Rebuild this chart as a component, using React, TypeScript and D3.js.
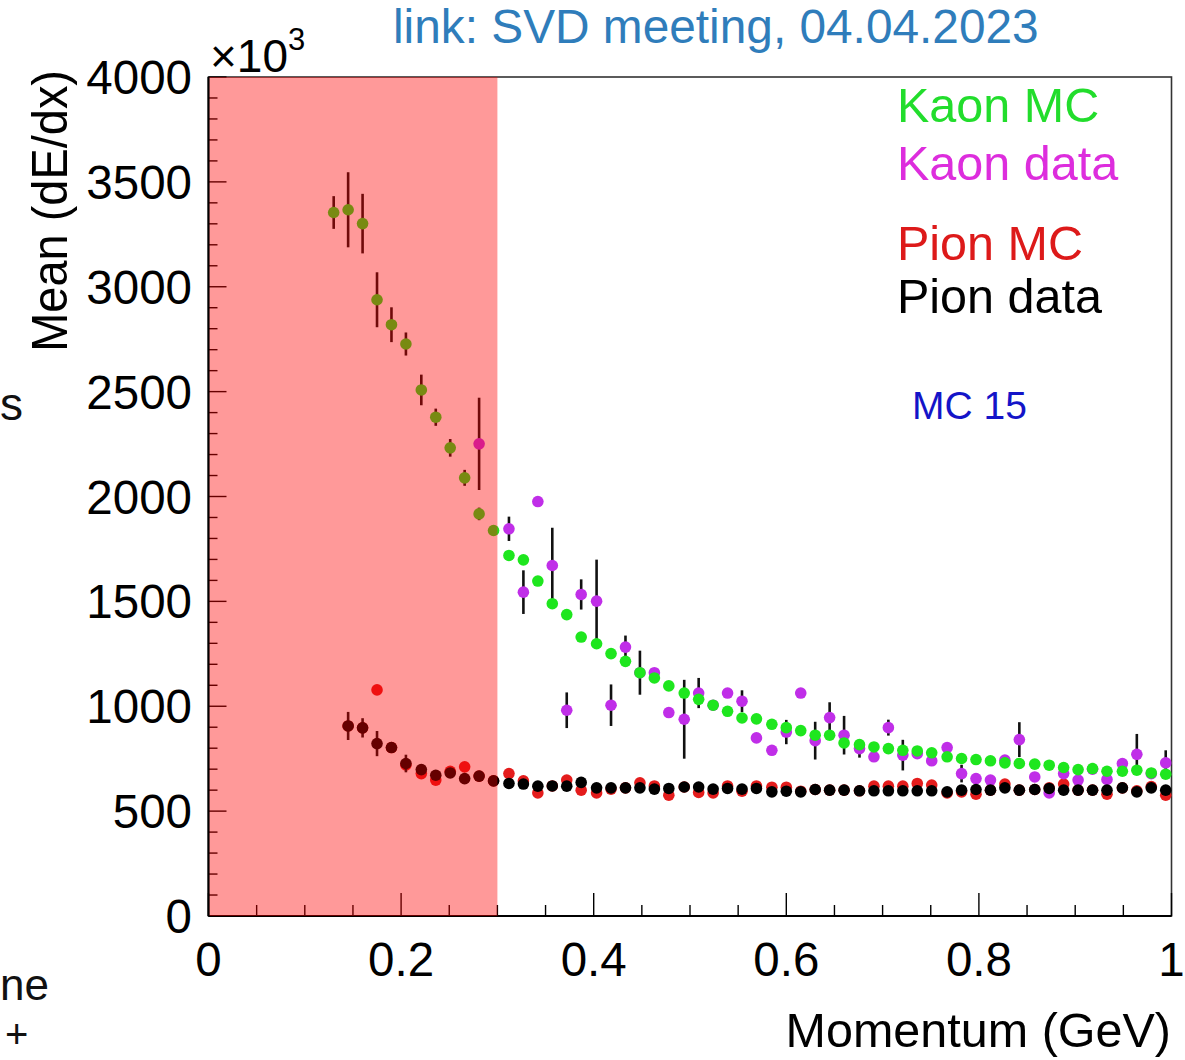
import React from 'react';
import * as d3 from 'd3';

const momentum = [0.130, 0.145, 0.160, 0.175, 0.190, 0.205, 0.221, 0.236, 0.251, 0.266, 0.281, 0.296, 0.312, 0.327, 0.342, 0.357, 0.372, 0.387, 0.403, 0.418, 0.433, 0.448, 0.463, 0.478, 0.494, 0.509, 0.524, 0.539, 0.554, 0.569, 0.585, 0.600, 0.615, 0.630, 0.645, 0.660, 0.676, 0.691, 0.706, 0.721, 0.736, 0.751, 0.767, 0.782, 0.797, 0.812, 0.827, 0.842, 0.858, 0.873, 0.888, 0.903, 0.918, 0.933, 0.949, 0.964, 0.979, 0.994];

const kaonMC = [3354, 3367, 3301, 2938, 2819, 2727, 2508, 2378, 2232, 2089, 1917, 1838, 1719, 1698, 1597, 1489, 1437, 1330, 1298, 1251, 1214, 1160, 1135, 1097, 1063, 1033, 1005, 976, 944, 940, 914, 898, 884, 862, 862, 825, 817, 806, 798, 790, 787, 778, 759, 751, 746, 740, 730, 727, 724, 719, 708, 698, 703, 690, 690, 695, 682, 676];
const kaonMCErr = [78, 179, 142, 131, 83, 55, 73, 41, 42, 38, 30, 15, 0, 0, 0, 0, 0, 0, 0, 0, 0, 0, 0, 0, 0, 0, 0, 0, 0, 0, 0, 0, 0, 0, 0, 0, 0, 0, 0, 0, 0, 0, 0, 0, 0, 0, 0, 0, 0, 0, 0, 0, 0, 0, 0, 0, 0, 0];

const kaonData = [null, null, null, null, null, null, null, null, null, null, 2251, null, 1846, 1544, 1976, 1671, 981, 1533, 1501, 1005, 1282, 1160, 1160, 970, 938, 1063, 1005, 1063, 1024, 849, 790, 877, 1063, 836, 946, 862, 798, 759, 898, 767, 774, 740, 803, 679, 655, 648, 743, 841, 663, 587, 679, 648, 700, 651, 727, 771, 679, 730];
const kaonDataErr = [0, 0, 0, 0, 0, 0, 0, 0, 0, 0, 220, 0, 58, 104, 0, 180, 85, 72, 198, 99, 55, 105, 15, 0, 188, 72, 0, 0, 52, 0, 0, 58, 0, 90, 73, 92, 43, 0, 38, 73, 20, 0, 20, 42, 25, 0, 20, 83, 0, 20, 0, 0, 0, 0, 0, 97, 20, 60];

const pionMC = [null, 906, 897, 1078, 803, 720, 679, 648, 690, 711, 667, 644, 679, 644, 587, 620, 648, 600, 587, 605, 611, 635, 620, 576, 615, 589, 587, 620, 595, 620, 614, 614, 595, 603, 600, 600, 597, 619, 619, 619, 632, 624, 587, 592, 581, 600, 629, 600, 603, 611, 629, 600, 600, 581, 611, 597, 617, 576];

const pionData = [null, 906, 897, 822, 803, 727, 698, 671, 682, 655, 667, 644, 632, 629, 619, 620, 619, 637, 611, 611, 611, 611, 605, 608, 615, 615, 605, 608, 605, 608, 592, 595, 592, 603, 600, 600, 597, 597, 597, 597, 597, 597, 592, 600, 603, 600, 611, 600, 603, 608, 600, 600, 600, 600, 611, 592, 611, 600];
const pionDataErr = [0, 67, 46, 60, 12, 42, 12, 10, 20, 0, 0, 0, 0, 0, 0, 0, 0, 0, 0, 0, 0, 0, 0, 0, 0, 0, 0, 0, 0, 0, 0, 0, 0, 0, 0, 0, 0, 0, 0, 0, 0, 0, 0, 0, 0, 0, 0, 0, 0, 0, 0, 0, 0, 0, 0, 0, 0, 0];

const yMajorTicks = [0, 500, 1000, 1500, 2000, 2500, 3000, 3500, 4000];
const xMajorTicks = [0, 0.2, 0.4, 0.6, 0.8, 1];
const xTickLabels = ['0', '0.2', '0.4', '0.6', '0.8', '1'];
const cutMomentum = 0.3;

const legendLabels = ['Kaon MC', 'Kaon data', 'Pion MC', 'Pion data'];
const legendColors = ['#22dd2c', '#dd2ddd', '#dd1a1a', '#000000'];

const FONT = '"Liberation Sans", Arial, Helvetica, sans-serif';

export default function App() {
  const x = d3.scaleLinear().domain([0, 1]).range([208.5, 1171.5]);
  const y = d3.scaleLinear().domain([0, 4000]).range([916, 77]);

  const yMinor = d3.range(0, 4001, 100);
  const xMinor = d3.range(0, 1.0001, 0.05);

  const pts = (vals: (number | null)[]) =>
    vals.map((v, i) => ({ p: momentum[i], v })).filter((d) => d.v !== null) as { p: number; v: number }[];

  const errBars = (vals: (number | null)[], errs: number[]) =>
    vals
      .map((v, i) => ({ p: momentum[i], v, e: errs[i] }))
      .filter((d) => d.v !== null && d.e > 0)
      .map((d, i) => (
        <line key={i} x1={x(d.p)} x2={x(d.p)} y1={y((d.v as number) - d.e)} y2={y((d.v as number) + d.e)} stroke="#111" strokeWidth={2.6} />
      ));

  const R = 5.8;

  return (
    <svg width={1185} height={1060} style={{ position: 'absolute', left: 0, top: 0, background: '#fff' }} fontFamily={FONT}>
      <rect x={0} y={0} width={1185} height={1060} fill="#fff" />
      {/* link text */}
      <text x={393} y={43} fontSize={47.8} fill="#2f7dbb">link: SVD meeting, 04.04.2023</text>

      {/* slide fragments on the left */}
      <text x={0} y={420} fontSize={46} fill="#111">s</text>
      <text x={0} y={1000} fontSize={44} fill="#111">ne</text>
      <text x={5} y={1048} fontSize={40} fill="#111">+</text>

      {/* frame */}
      <rect x={x(0)} y={y(4000)} width={x(1) - x(0)} height={y(0) - y(4000)} fill="none" stroke="#333" strokeWidth={1.6} />

      {/* data: pion MC */}
      <g>
        {pts(pionMC).map((d, i) => (
          <circle key={i} cx={x(d.p)} cy={y(d.v)} r={R} fill="#e41c1c" />
        ))}
      </g>
      {/* kaon data */}
      <g>
        {errBars(kaonData, kaonDataErr)}
        {pts(kaonData).map((d, i) => (
          <circle key={i} cx={x(d.p)} cy={y(d.v)} r={R} fill="#c02ee8" />
        ))}
      </g>
      {/* pion data */}
      <g>
        {errBars(pionData, pionDataErr)}
        {pts(pionData).map((d, i) => (
          <circle key={i} cx={x(d.p)} cy={y(d.v)} r={R} fill="#000" />
        ))}
      </g>
      {/* kaon MC */}
      <g>
        {errBars(kaonMC, kaonMCErr)}
        {pts(kaonMC).map((d, i) => (
          <circle key={i} cx={x(d.p)} cy={y(d.v)} r={R} fill="#1ee61e" />
        ))}
      </g>

      {/* axes */}
      <line x1={x(0)} x2={x(1)} y1={y(0)} y2={y(0)} stroke="#000" strokeWidth={2.2} />
      <line x1={x(0)} x2={x(0)} y1={y(0)} y2={y(4000)} stroke="#000" strokeWidth={2.2} />
      {yMinor.map((t) => (
        <line key={'ym' + t} x1={x(0)} x2={x(0) + (t % 500 === 0 ? 18 : 9)} y1={y(t)} y2={y(t)} stroke="#000" strokeWidth={1.4} />
      ))}
      {xMinor.map((t, i) => (
        <line key={'xm' + i} x1={x(t)} x2={x(t)} y1={y(0)} y2={y(0) - (i % 4 === 0 ? 23 : 11)} stroke="#000" strokeWidth={1.4} />
      ))}

      {/* cut region overlay */}
      <rect x={x(0) + 1} y={y(4000)} width={x(cutMomentum) - x(0) - 1} height={y(0) - y(4000)} fill="#ff0000" fillOpacity={0.4} />

      {/* tick labels */}
      {yMajorTicks.map((t) => (
        <text key={'yl' + t} x={192} y={y(t)} dy="0.36em" textAnchor="end" fontSize={47.5} fill="#000">{t}</text>
      ))}
      {xMajorTicks.map((t, i) => (
        <text key={'xl' + i} x={x(t)} y={976} textAnchor="middle" fontSize={47.5} fill="#000">{xTickLabels[i]}</text>
      ))}
      <text x={210} y={72} fontSize={46} fill="#000">×10<tspan fontSize={31} dy={-22}>3</tspan></text>

      {/* axis titles */}
      <text x={1171} y={1047} textAnchor="end" fontSize={48.5} fill="#000">Momentum (GeV)</text>
      <text transform={`translate(67, 70) rotate(-90) scale(0.93, 1)`} textAnchor="end" fontSize={50.5} fill="#000">Mean (dE/dx)</text>

      {/* legend */}
      {legendLabels.map((l, i) => (
        <text key={l} x={897} y={[122, 180, 260, 313][i]} fontSize={48.5} fill={legendColors[i]}>{l}</text>
      ))}
      <text x={912} y={419} fontSize={39} fill="#1414c8">MC 15</text>
    </svg>
  );
}
